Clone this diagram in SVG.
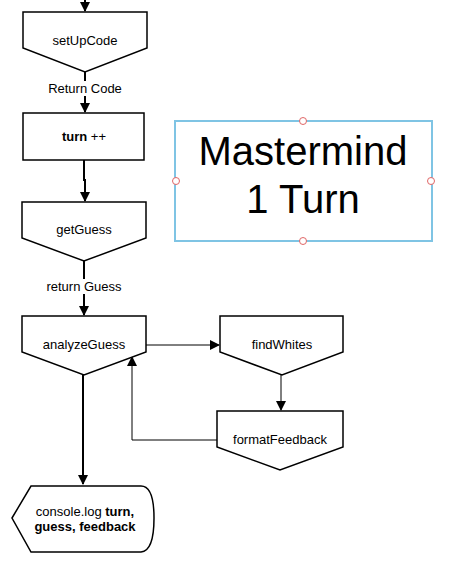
<svg xmlns="http://www.w3.org/2000/svg" width="450" height="572" viewBox="0 0 450 572">
<defs>
<marker id="ah" markerWidth="10" markerHeight="12" refX="9" refY="5" orient="auto" markerUnits="userSpaceOnUse" viewBox="0 0 10 10">
<path d="M0,0 L10,5 L0,10 Z" fill="#000"/>
</marker>
</defs>
<style>
.shape{fill:#fff;stroke:#000;stroke-width:1.5;stroke-linejoin:miter}
.t{font-family:"Liberation Sans",Arial,sans-serif;font-size:13px;fill:#000;text-anchor:middle}
.c{fill:none;stroke:#000;stroke-width:2}
.c1{fill:none;stroke:#000;stroke-width:1}
.lbl{font-family:"Liberation Sans",Arial,sans-serif;font-size:13px;fill:#000;text-anchor:middle}
.title{font-family:"Liberation Sans",Arial,sans-serif;font-size:40px;fill:#000;text-anchor:middle}
.h{fill:#fff;stroke:#e06666;stroke-width:1}
</style>
<rect width="450" height="572" fill="#fff"/>
<g id="connectors">
<path class="c" d="M85,0 L85,11" marker-end="url(#ah)"/>
<path class="c" d="M85,72 L85,112" marker-end="url(#ah)"/>
<path class="c" d="M84,160 L84,180 L85,180 L85,201" marker-end="url(#ah)"/>
<path class="c" d="M84,261 L84,315" marker-end="url(#ah)"/>
<path class="c1" d="M146,345 L219,345" marker-end="url(#ah)"/>
<path class="c1" d="M281,375 L281,410" marker-end="url(#ah)"/>
<path class="c1" d="M217,440 L132,440 L132,357" marker-end="url(#ah)"/>
<path class="c" d="M83,375 L83,484" marker-end="url(#ah)"/>
<rect x="44" y="81" width="82" height="15" fill="#fff"/>
<text class="lbl" x="85" y="93">Return Code</text>
<rect x="42" y="279" width="84" height="15" fill="#fff"/>
<text class="lbl" x="84" y="291">return Guess</text>
</g>
<g id="setUpCode">
<path class="shape" d="M23,12 L147,12 L147,48 L85,72 L23,48 Z"/>
<text class="t" x="85" y="45">setUpCode</text>
</g>
<g id="turn">
<rect class="shape" x="23" y="113" width="121" height="47"/>
<text class="t" x="84" y="141"><tspan font-weight="bold">turn</tspan> ++</text>
</g>
<g id="getGuess">
<path class="shape" d="M22,202 L146,202 L146,238 L84,261 L22,238 Z"/>
<text class="t" x="84" y="234">getGuess</text>
</g>
<g id="analyzeGuess">
<path class="shape" d="M22,316 L146,316 L146,352 L84,375 L22,352 Z"/>
<text class="t" x="84" y="349">analyzeGuess</text>
</g>
<g id="findWhites">
<path class="shape" d="M220,316 L343,316 L343,352 L282,375 L220,352 Z"/>
<text class="t" x="282" y="349">findWhites</text>
</g>
<g id="formatFeedback">
<path class="shape" d="M217,411 L343,411 L343,447 L280,470 L217,447 Z"/>
<text class="t" x="280" y="444">formatFeedback</text>
</g>
<g id="consoleLog">
<path class="shape" d="M12,518 L31,486 L141,486 Q154,486 154,518 Q154,551 141,552 L31,552 Z"/>
<text class="t" x="85" y="516">console.log <tspan font-weight="bold">turn,</tspan></text>
<text class="t" x="85" y="531" font-weight="bold">guess, feedback</text>
</g>
<g id="title">
<rect x="175" y="121" width="257" height="120" fill="#fff" stroke="#7fc4e4" stroke-width="2"/>
<text class="title" x="303" y="165">Mastermind</text>
<text class="title" x="303" y="213">1 Turn</text>
<circle class="h" cx="303" cy="121" r="3.5"/>
<circle class="h" cx="303" cy="241" r="3.5"/>
<circle class="h" cx="176" cy="181" r="3.5"/>
<circle class="h" cx="431" cy="181" r="3.5"/>
</g>
</svg>
